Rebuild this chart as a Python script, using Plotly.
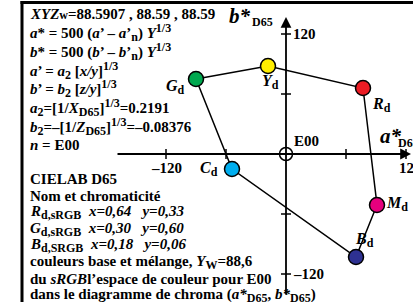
import plotly.graph_objects as go

# ---- data ----
names = ["G", "Y", "R", "M", "B", "C"]
a_vals = [-90, -18, 77, 91, 70, -54]
b_vals = [75, 88, 66, -51, -103, -15]
colors = ["#00a84f", "#ffee00", "#ec1c24", "#e6007e", "#2e3192", "#00aeef"]
tick_vals = [-120, -60, 60, 120]


def sb(s, size=12):
    return f'<sub><span style="font-size:{size}px">{s}</span></sub>'


def sp(s, size=12):
    return f'<sup><span style="font-size:{size}px">{s}</span></sup>'


top_lines = [
    '<i>XYZ</i><span style="font-size:12px">w</span>=88.5907 , 88.59 , 88.59',
    f"<i>a</i>* = 500 (<i>a</i>’ – <i>a</i>’{sb('n')}) <i>Y</i>{sp('1/3')}",
    f"<i>b</i>* = 500 (<i>b</i>’ – <i>b</i>’{sb('n')}) <i>Y</i>{sp('1/3')}",
    f"<i>a</i>’ = <i>a</i>{sb('2')} [<i>x/y</i>]{sp('1/3')}",
    f"<i>b</i>’ = <i>b</i>{sb('2')} [<i>z/y</i>]{sp('1/3')}",
    f"<i>a</i>{sb('2')}=[1/<i>X</i>{sb('D65')}]{sp('1/3')}=0.2191",
    f"<i>b</i>{sb('2')}=–[1/<i>Z</i>{sb('D65')}]{sp('1/3')}=–0.08376",
    "<i>n</i> = E00",
]
bottom_lines = [
    "CIELAB D65",
    "Nom et chromaticité",
    f"<i>R</i>{sb('d,sRGB')}\u00a0\u00a0<i>x=0,64\u00a0\u00a0\u00a0y=0,33</i>",
    f"<i>G</i>{sb('d,sRGB')}\u00a0\u00a0<i>x=0,30\u00a0\u00a0\u00a0y=0,60</i>",
    f"<i>B</i>{sb('d,SRGB')}\u00a0\u00a0<i>x=0,18\u00a0\u00a0\u00a0y=0,06</i>",
    f"couleurs base et mélange, <i>Y</i>{sb('W')}=88,6",
    "du <i>sRGB</i>l’espace de couleur pour E00",
    f"dans le diagramme de chroma (<i>a*</i>{sb('D65')}, <i>b*</i>{sb('D65')})",
]

W, H = 413, 302
OX, OY = 286, 154  # pixel position of origin


def px(xp):
    return xp - OX


def py(yp):
    return OY - yp


FONT = "Liberation Serif"
fig = go.Figure()

# polygon
order = [0, 1, 2, 3, 4, 5, 0]
fig.add_trace(go.Scatter(x=[a_vals[i] for i in order], y=[b_vals[i] for i in order],
                         mode="lines", line=dict(color="black", width=1.5),
                         hoverinfo="skip", showlegend=False))

# ticks
tx, ty = [], []
for t in tick_vals:
    tx += [t, t, None, -5, 5, None]
    ty += [-5, 5, None, t, t, None]
fig.add_trace(go.Scatter(x=tx, y=ty, mode="lines", line=dict(color="black", width=1.5),
                         hoverinfo="skip", showlegend=False))

# points
fig.add_trace(go.Scatter(x=a_vals, y=b_vals, mode="markers",
                         marker=dict(size=15, color=colors, line=dict(color="black", width=1.5)),
                         hoverinfo="skip", showlegend=False))

ann = []
# axes arrows
ann.append(dict(x=125, y=0, ax=-170, ay=0, xref="x", yref="y", axref="x", ayref="y",
                showarrow=True, arrowhead=2, arrowwidth=1.8, arrowsize=1.2, arrowcolor="black", text=""))
ann.append(dict(x=0, y=137, ax=0, ay=-142, xref="x", yref="y", axref="x", ayref="y",
                showarrow=True, arrowhead=2, arrowwidth=1.8, arrowsize=1.2, arrowcolor="black", text=""))

bf = dict(family=FONT, size=15, color="black")
big = dict(family=FONT, size=21, color="black")
small = dict(family=FONT, size=12, color="black")
# axis labels
ann.append(dict(x=0, y=120, text="<b>120</b>", xanchor="left", yanchor="middle", xshift=5, showarrow=False, font=bf))
ann.append(dict(x=0, y=-120, text="<b>–120</b>", xanchor="left", yanchor="middle", xshift=5, showarrow=False, font=bf))
ann.append(dict(x=0, y=0, text="<b>E00</b>", xanchor="left", yanchor="middle", xshift=6, yshift=13, showarrow=False, font=bf))
ann.append(dict(x=-120, y=0, text="<b>–120</b>", xanchor="center", yanchor="middle", yshift=-14, showarrow=False, font=bf))
ann.append(dict(x=124, y=0, text="<b>120</b>", xanchor="center", yanchor="middle", yshift=-14, showarrow=False, font=bf))
ann.append(dict(x=px(227), y=py(16), text="<b><i>b*</i></b>", xanchor="left", yanchor="middle",
                showarrow=False, font=big))
ann.append(dict(x=px(250), y=py(22), text="<b>D65</b>", xanchor="left", yanchor="middle",
                showarrow=False, font=small))
ann.append(dict(x=px(378), y=py(136), text="<b><i>a*</i></b>", xanchor="left", yanchor="middle",
                showarrow=False, font=big))
ann.append(dict(x=px(396), y=py(143), text="<b>D65</b>", xanchor="left", yanchor="middle",
                showarrow=False, font=small))

# point labels
shifts = {"G": (-21, -8), "Y": (2, -16), "R": (18, -17), "M": (20, 1), "B": (8, 17), "C": (-23, 0)}
for n, a, b in zip(names, a_vals, b_vals):
    sx, sy = shifts[n]
    ann.append(dict(x=a, y=b, text=f"<b><i>{n}</i>{sb('d', 12)}</b>", xanchor="center", yanchor="middle",
                    xshift=sx, yshift=sy, showarrow=False, font=dict(family=FONT, size=16, color="black")))

# text blocks
for i, t in enumerate(top_lines):
    ann.append(dict(x=px(28), y=py(14 + i * 18.7), text=f"<b>{t}</b>", xanchor="left", yanchor="middle",
                    showarrow=False, font=bf))
for i, t in enumerate(bottom_lines):
    ann.append(dict(x=px(28), y=py(179 + i * 16.7), text=f"<b>{t}</b>", xanchor="left", yanchor="middle",
                    showarrow=False, font=bf))

shapes = [
    dict(type="circle", xref="x", yref="y", x0=-6.5, x1=6.5, y0=-6.5, y1=6.5,
         line=dict(color="black", width=1.5)),
    dict(type="line", xref="paper", yref="paper", x0=22 / W, x1=22 / W, y0=0, y1=1 - 1 / H,
         line=dict(color="black", width=3)),
    dict(type="line", xref="paper", yref="paper", x0=20.5 / W, x1=1, y0=1 - 2.5 / H, y1=1 - 2.5 / H,
         line=dict(color="black", width=3)),
]

fig.update_layout(
    width=W, height=H, margin=dict(l=0, r=0, t=0, b=0),
    paper_bgcolor="white", plot_bgcolor="white",
    xaxis=dict(range=[px(0), px(W)], visible=False, fixedrange=True),
    yaxis=dict(range=[py(H), py(0)], visible=False, fixedrange=True),
    annotations=ann, shapes=shapes, showlegend=False,
    font=dict(family=FONT),
)
fig.write_html("out.html", config={"displayModeBar": False},
               post_script="document.body.style.margin='0px';document.body.style.overflow='hidden';")
